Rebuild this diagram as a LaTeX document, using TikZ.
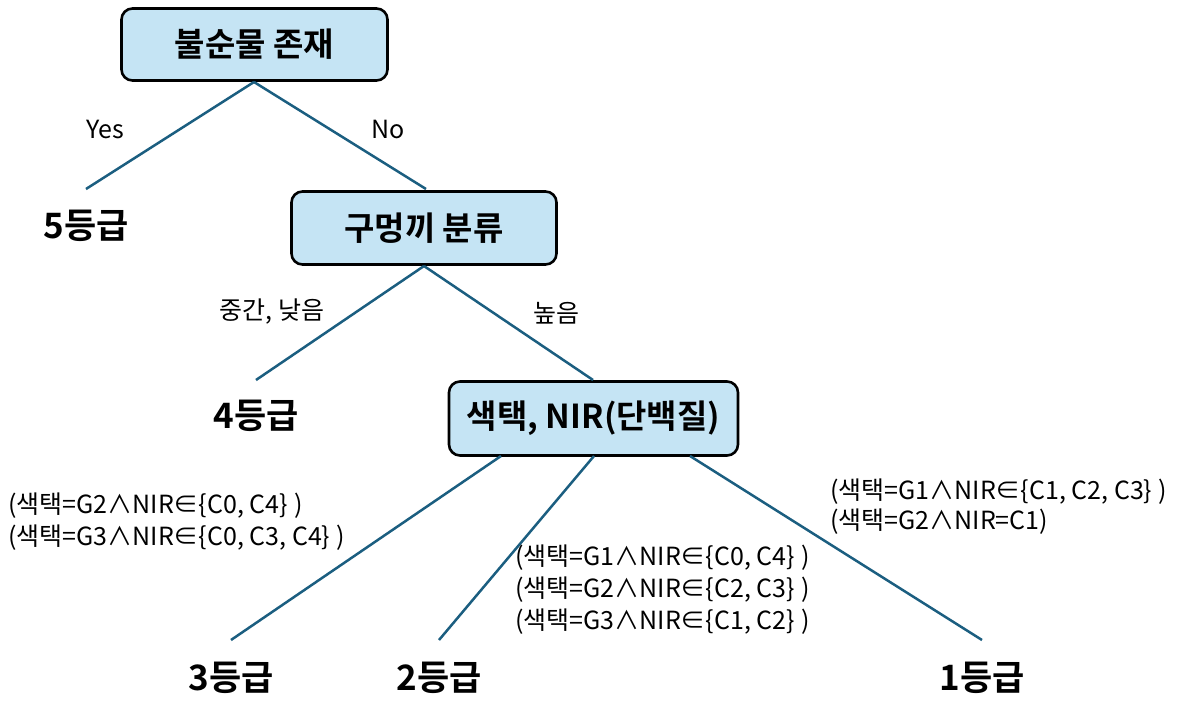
\documentclass[tikz,border=0pt]{standalone}
\usepackage{fontspec}
\setmainfont{Noto Sans CJK KR}
\newfontfamily\krbold{Noto Sans CJK KR Bold}
\definecolor{boxfill}{HTML}{C5E4F4}
\definecolor{edgecol}{HTML}{1B5E80}
\newcommand{\cl}{\hspace{0.25em})}
\begin{document}
\begin{tikzpicture}[x=1pt,y=-1pt,
  decbox/.style={draw=black,line width=2.6pt,rounded corners=11pt,fill=boxfill,inner sep=0pt,font=\krbold\fontsize{33}{38}\selectfont},
  leaf/.style={font=\krbold\fontsize{35}{40}\selectfont,inner sep=0pt},
  elabel/.style={font=\fontsize{25}{30}\selectfont,inner sep=0pt},
  cond/.style={font=\fontsize{25}{32}\selectfont,inner sep=0pt,align=left},
  edge/.style={draw=edgecol,line width=2.5pt}]
\useasboundingbox (0,0) rectangle (1177,704);
% decision boxes
\node[decbox,minimum width=266pt,minimum height=72pt] (b1) at (254.5,44.5) {불순물 존재};
\node[decbox,minimum width=265pt,minimum height=73pt] (b2) at (424,228) {구멍끼 분류};
\node[decbox,minimum width=289pt,minimum height=74pt] (b3) at (593.5,418.5) {색택, NIR(단백질)};
% leaves
\node[leaf] (l5) at (86,226) {5등급};
\node[leaf] (l4) at (256,416) {4등급};
\node[leaf] (l3) at (231,678) {3등급};
\node[leaf] (l2) at (439,678) {2등급};
\node[leaf] (l1) at (982,678) {1등급};
% line end points
\coordinate (e5) at (86,189);
\coordinate (e4) at (256,380);
\coordinate (e3) at (231,640);
\coordinate (e2) at (439,640);
\coordinate (e1) at (982,640);
\coordinate (b1s) at (254,82);
\coordinate (b2n) at (426,189);
\coordinate (b2s) at (424,266);
\coordinate (b3n) at (593,380);
\coordinate (b3a) at (501,456);
\coordinate (b3b) at (594,456);
\coordinate (b3c) at (690,456);
% edges
\draw[edge] (b1s) -- (e5);
\draw[edge] (b1s) -- (b2n);
\draw[edge] (b2s) -- (e4);
\draw[edge] (b2s) -- (b3n);
\draw[edge] (b3a) -- (e3);
\draw[edge] (b3b) -- (e2);
\draw[edge] (b3c) -- (e1);
% edge labels
\node[elabel] (ly) at (105,129) {Yes};
\node[elabel] (ln) at (388,129) {No};
\node[elabel] (lm) at (272,312) {중간, 낮음};
\node[elabel] (lh) at (556,313) {높음};
% condition texts
\node[cond,anchor=west] (c3) at (8,522) {(색택=G2∧NIR∈{\{}C0, C4{\}}\cl\\(색택=G3∧NIR∈{\{}C0, C3, C4{\}}\cl};
\node[cond,anchor=west] (c2) at (515,590) {(색택=G1∧NIR∈{\{}C0, C4{\}}\cl\\(색택=G2∧NIR∈{\{}C2, C3{\}}\cl\\(색택=G3∧NIR∈{\{}C1, C2{\}}\cl};
\node[cond,anchor=west,font=\fontsize{25}{30}\selectfont] (c1) at (830,507) {(색택=G1∧NIR∈{\{}C1, C2, C3{\}}\cl\\(색택=G2∧NIR=C1)};
\end{tikzpicture}
\end{document}
